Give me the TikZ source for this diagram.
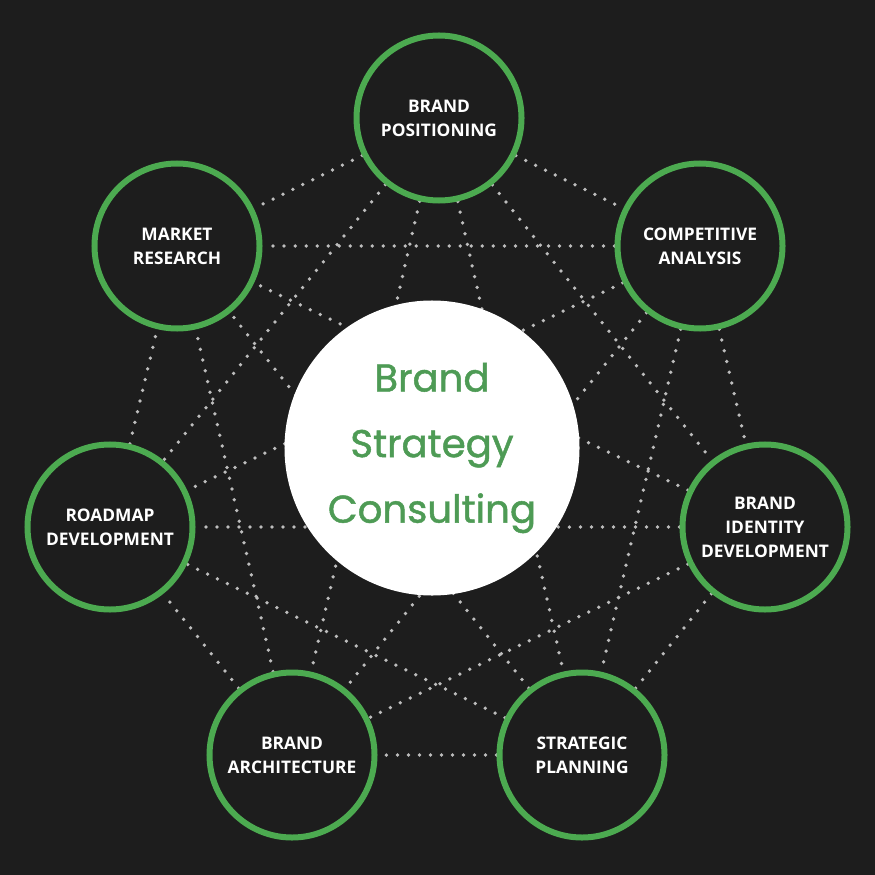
\documentclass[tikz,border=0pt]{standalone}
\usepackage{fontspec}
\setmainfont{Open Sans}
\newfontfamily\hubfont[BoldFont={Poppins},BoldFeatures={FakeBold=1.2}]{Poppins}
\usepackage{tikz}

\definecolor{bgdark}{HTML}{1D1D1D}
\definecolor{ringgreen}{HTML}{4CAA50}
\definecolor{hubgreen}{HTML}{4E9B55}
\definecolor{dotgray}{HTML}{BDBDBD}

\pgfdeclarelayer{backdrop}
\pgfdeclarelayer{links}
\pgfsetlayers{backdrop,links,main}

\begin{document}
\begin{tikzpicture}[x=0.03cm,y=-0.03cm,
    every node/.style={circle,align=center,inner sep=0pt},
    topic/.style={draw=ringgreen,line width=0.18cm,fill=bgdark,minimum size=4.95cm,
      text=white,font=\bfseries\fontsize{14.8}{20.5}\selectfont},
    hub/.style={fill=white,minimum size=8.85cm,text=hubgreen,
      font=\hubfont\bfseries\fontsize{33}{56}\selectfont},
    link/.style={draw=dotgray,line width=3.2pt,line cap=round,dash pattern=on 0pt off 9.4pt}]

  % outer ring of topics
  \node[topic] (positioning) at (439,118) {BRAND\\POSITIONING};
  \node[topic] (competitive) at (700,246) {COMPETITIVE\\ANALYSIS};
  \node[topic] (identity) at (765,527) {BRAND\\IDENTITY\\DEVELOPMENT};
  \node[topic] (planning) at (582,755) {STRATEGIC\\PLANNING};
  \node[topic] (architecture) at (292,755) {BRAND\\ARCHITECTURE};
  \node[topic] (roadmap) at (110,527) {ROADMAP\\DEVELOPMENT};
  \node[topic] (research) at (177,246) {MARKET\\RESEARCH};

  % hub in the middle
  \node[hub] (hub) at (432,448) {Brand\\Strategy\\Consulting};

  \begin{pgfonlayer}{backdrop}
    \fill[bgdark] (0,0) rectangle (875,875);
  \end{pgfonlayer}

  % dotted web between every pair of topics
  \begin{pgfonlayer}{links}
    \draw[link] (positioning) -- (competitive) (positioning) -- (identity)
      (positioning) -- (planning) (positioning) -- (architecture)
      (positioning) -- (roadmap) (positioning) -- (research);
    \draw[link] (competitive) -- (identity) (competitive) -- (planning)
      (competitive) -- (architecture) (competitive) -- (roadmap)
      (competitive) -- (research);
    \draw[link] (identity) -- (planning) (identity) -- (architecture)
      (identity) -- (roadmap) (identity) -- (research);
    \draw[link] (planning) -- (architecture) (planning) -- (roadmap)
      (planning) -- (research);
    \draw[link] (architecture) -- (roadmap) (architecture) -- (research);
    \draw[link] (roadmap) -- (research);
  \end{pgfonlayer}

\end{tikzpicture}
\end{document}
